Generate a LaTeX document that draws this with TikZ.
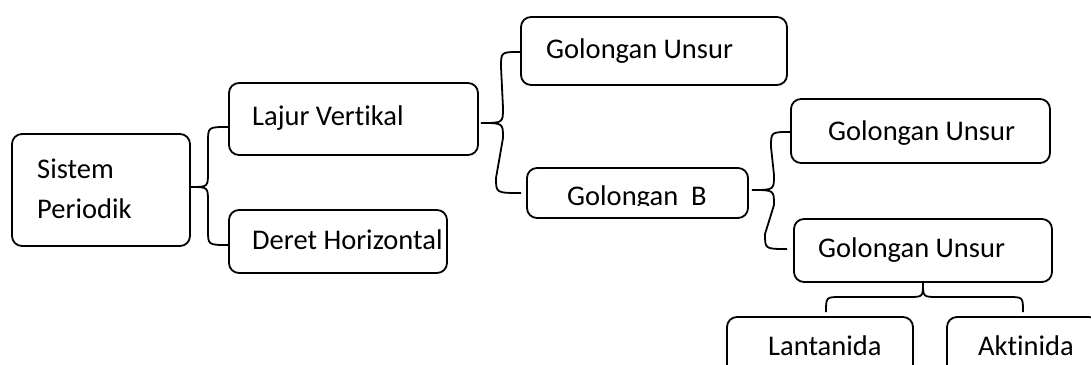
\documentclass[tikz,border=0pt]{standalone}
\usepackage{fontspec}
\setmainfont{Carlito}[Ligatures=NoCommon]
\usetikzlibrary{calc}
\tikzset{
  box/.style={draw, line width=1.8pt, rounded corners=10pt, inner sep=0pt},
  lbl/.style={anchor=base west, inner sep=0pt, font=\fontsize{28.5}{40}\selectfont},
  brace/.style={draw, line width=1.8pt},
}
% left-pointing brace: #1 middle tip, #2 top end, #3 bottom end, #4 spine coordinate
\newcommand\leftbrace[4]{%
  \draw[brace] (#2) .. controls (#2 -| #4) .. ($(#2 -| #4)+(0,15)$)
    -- ($(#1 -| #4)+(0,-15)$) .. controls (#1 -| #4) .. (#1)
    .. controls (#1 -| #4) .. ($(#1 -| #4)+(0,15)$)
    -- ($(#3 -| #4)+(0,-15)$) .. controls (#3 -| #4) .. (#3);}
\newcommand\mkbox[5]{%
  \pgfmathsetmacro\bxw{#4-#2}%
  \pgfmathsetmacro\bxh{#5-#3}%
  \pgfmathsetmacro\bxx{(#2+#4)/2}%
  \pgfmathsetmacro\bxy{(#3+#5)/2}%
  \node[box, minimum width=\bxw pt, minimum height=\bxh pt] (#1) at (\bxx,\bxy) {};}
\begin{document}
\begin{tikzpicture}[x=1pt, y=-1pt]
\clip (0,0) rectangle (1091,364);
% boxes
\mkbox{sistem}{12}{134}{190}{246}
\mkbox{lajur}{229}{83}{478}{155}
\mkbox{deret}{229}{210}{447}{273}
\mkbox{guA}{521}{17}{787}{85}
\mkbox{gb}{527}{168}{748}{218}
\mkbox{guB}{791}{99}{1050}{163}
\mkbox{guC}{794}{219}{1052}{282}
\mkbox{lant}{727}{317}{913}{390}
\mkbox{akt}{947}{317}{1099}{390}
% labels
\node[lbl, align=left] (sistemT) at (37,218) {Sistem\\Periodik};
\node[lbl] (lajurT) at (252,125) {Lajur Vertikal};
\node[lbl] (deretT) at (252,249) {Deret Horizontal};
\node[lbl] (guAT) at (546,58) {Golongan Unsur};
\begin{scope}
  \clip (527,168) rectangle (748,205.5);
  \node[lbl] (gbT) at (567,205.5) {Golongan\ \ B};
\end{scope}
\node[lbl] (guBT) at (828,140) {Golongan Unsur};
\node[lbl] (guCT) at (818,257) {Golongan Unsur};
\node[lbl] (lantT) at (768,355) {Lantanida};
\node[lbl] (aktT) at (978,355) {Aktinida};
% brace spines
\coordinate (sp1) at (208,0);
\coordinate (sp2) at (501,0);
\coordinate (sp3) at (771,0);
\coordinate (sp4) at (0,297);
% braces
\leftbrace{[shift={(0,-3)}]sistem.east}{[shift={(0,8)}]lajur.west}{[shift={(0,3.5)}]deret.west}{sp1}
\leftbrace{[shift={(2,4)}]lajur.east}{[shift={(0,1)}]guA.west}{[shift={(-5,0)}]gb.west}{sp2}
\leftbrace{[shift={(3,-3)}]gb.east}{[shift={(0,1)}]guB.west}{[shift={(-6,-1.5)}]guC.west}{sp3}
% upward brace
\coordinate (bl) at ([shift={(6,-4)}]lant.north);
\coordinate (br) at ([shift={(0,-4)}]akt.north);
\draw[brace] (bl) .. controls (bl |- sp4) .. ($(bl |- sp4)+(15,0)$)
  -- ($(guC.south |- sp4)+(-15,0)$) .. controls (guC.south |- sp4) .. (guC.south)
  .. controls (guC.south |- sp4) .. ($(guC.south |- sp4)+(15,0)$)
  -- ($(br |- sp4)+(-15,0)$) .. controls (br |- sp4) .. (br);
\end{tikzpicture}
\end{document}
